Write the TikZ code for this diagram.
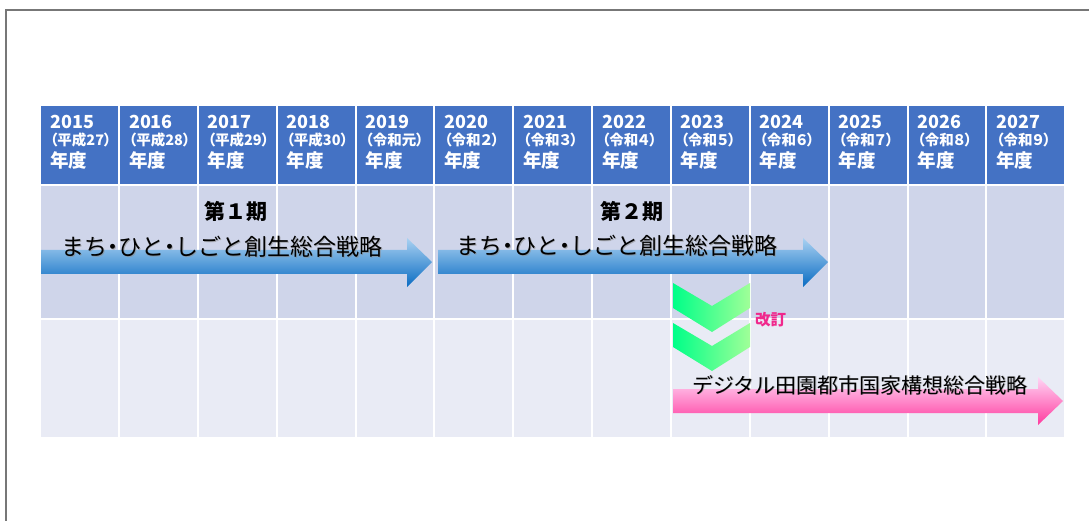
\documentclass[tikz,border=0pt]{standalone}
\usepackage{fontspec}
\setmainfont{Noto Sans CJK JP}
\newfontfamily\paltfont{Noto Sans CJK JP}[RawFeature=+palt]
\definecolor{hdrblue}{HTML}{4472C4}
\definecolor{rowA}{HTML}{CFD5EA}
\definecolor{rowB}{HTML}{E9EBF5}
\definecolor{arrBlueL}{HTML}{A9D1F2}
\definecolor{arrBlueD}{HTML}{0A6CC2}
\definecolor{arrPinkL}{HTML}{FFD6F5}
\definecolor{arrPinkD}{HTML}{FF3A9E}
\definecolor{chevL}{HTML}{00FF88}
\definecolor{chevR}{HTML}{A0FF98}
\definecolor{revcol}{HTML}{F0288C}
\definecolor{framegray}{HTML}{777777}
\newcommand{\ndot}{{\paltfont ・}}
\tikzset{
  cellbox/.style={draw=none, inner sep=0pt, minimum width=76.85pt, anchor=north west},
  hcell/.style={cellbox, fill=hdrblue, minimum height=78pt},
  acell/.style={cellbox, fill=rowA, minimum height=132pt},
  bcell/.style={cellbox, fill=rowB, minimum height=117pt},
  yeartxt/.style={anchor=west, inner sep=0pt, text=white, font=\fontsize{18}{18}\selectfont\bfseries},
  eratxt/.style={anchor=west, inner sep=0pt, text=white, font=\paltfont\fontsize{14.5}{14.5}\selectfont\bfseries},
  nendotxt/.style={anchor=west, inner sep=0pt, text=white, font=\fontsize{18.5}{18.5}\selectfont\bfseries},
  phasetxt/.style={inner sep=0pt, font=\fontsize{21}{21}\selectfont\bfseries},
  strattxt/.style={anchor=west, inner sep=0pt, font=\fontsize{23}{23}\selectfont},
  digtxt/.style={anchor=west, inner sep=0pt, font=\fontsize{21}{21}\selectfont},
  shadowtxt/.style={text=black!45, opacity=0.6},
  revtxt/.style={anchor=west, inner sep=0pt, text=revcol, font=\fontsize{15.5}{15.5}\selectfont\bfseries},
}
\begin{document}
\begin{tikzpicture}[x=1pt,y=-1pt]
\useasboundingbox (0,0) rectangle (1089,521);
\fill[white] (0,0) rectangle (1089,521);
% frame
\draw[framegray, line width=2pt] (6,521) -- (6,10) -- (1089,10);
% table
\foreach \yr/\era [count=\i from 0] in {2015/（平成27）,2016/（平成28）,2017/（平成29）,2018/（平成30）,2019/（令和元）,2020/（令和２）,2021/（令和３）,2022/（令和４）,2023/（令和５）,2024/（令和６）,2025/（令和７）,2026/（令和８）,2027/（令和９）}{
  \pgfmathsetmacro{\xl}{41+\i*78.846}
  \node[hcell] (h\i) at (\xl,106) {};
  \node[acell] (a\i) at (\xl,186) {};
  \node[bcell] (b\i) at (\xl,320) {};
  \node[yeartxt] (y\i) at (\xl+9,121.5) {\yr};
  \node[eratxt] (e\i) at (\xl+9,140) {\era};
  \node[nendotxt] (n\i) at (\xl+9,160) {年度};
}
% arrows
\shade[top color=arrBlueL, bottom color=arrBlueD] (41,250) -- (407,250) -- (407,238) -- (432,262) -- (407,287) -- (407,274) -- (41,274) -- cycle;
\shade[top color=arrBlueL, bottom color=arrBlueD] (438,250) -- (803,250) -- (803,238) -- (828,262) -- (803,287) -- (803,274) -- (438,274) -- cycle;
\shade[top color=arrPinkL, bottom color=arrPinkD] (673,389) -- (1038,389) -- (1038,377) -- (1063,401) -- (1038,425) -- (1038,413) -- (673,413) -- cycle;
% chevrons
\shade[left color=chevL, right color=chevR] (673,283) -- (712,306) -- (750,283) -- (750,308) -- (712,332) -- (673,308) -- cycle;
\shade[left color=chevL, right color=chevR] (673,323) -- (712,346) -- (750,323) -- (750,347) -- (712,371) -- (673,347) -- cycle;
% texts
\node[phasetxt] (p1) at (236,211) {第１期};
\node[phasetxt] (p2) at (632,211) {第２期};
\node[strattxt, shadowtxt] at (61.8,247.8) {まち\ndot ひと\ndot しごと創生総合戦略};
\node[strattxt] (s1) at (61,247) {まち\ndot ひと\ndot しごと創生総合戦略};
\node[strattxt, shadowtxt] at (456.8,246.8) {まち\ndot ひと\ndot しごと創生総合戦略};
\node[strattxt] (s2) at (456,246) {まち\ndot ひと\ndot しごと創生総合戦略};
\node[digtxt, shadowtxt] at (692.8,385.8) {デジタル田園都市国家構想総合戦略};
\node[digtxt] (s3) at (692,385) {デジタル田園都市国家構想総合戦略};
\node[revtxt] (rv) at (755,320) {改訂};
\end{tikzpicture}
\end{document}
